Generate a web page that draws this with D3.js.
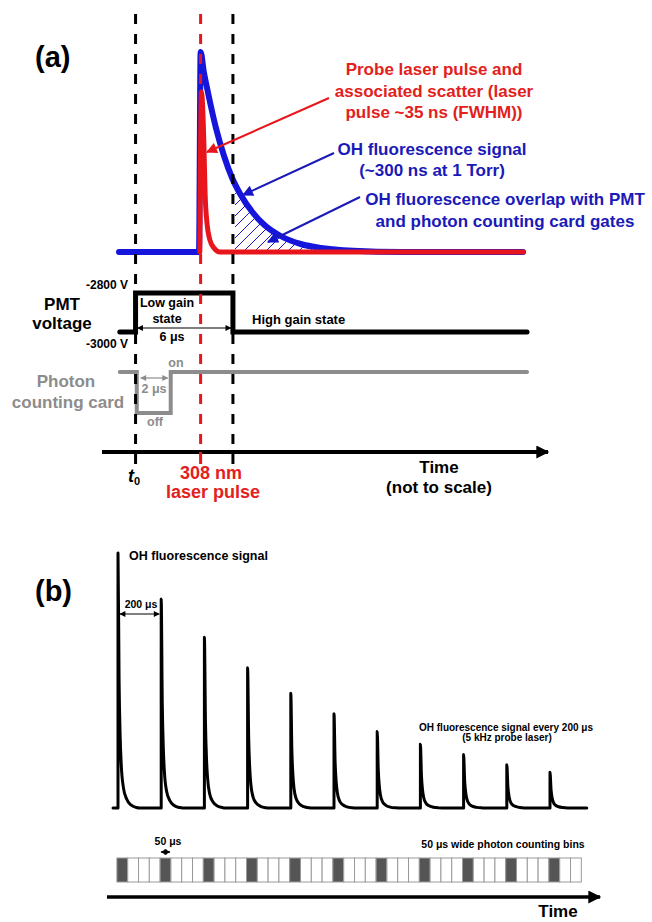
<!DOCTYPE html>
<html>
<head>
<meta charset="utf-8">
<script src="https://d3js.org/d3.v7.min.js"></script>
<style>
  body { margin: 0; background: #fff; }
  svg text { font-family: "Liberation Sans", Arial, sans-serif; font-weight: bold; }
</style>
</head>
<body>
<script>
// ---------- panel (a): timing scheme (time axis not to scale) ----------
var markerTimes = [4.1, 20.2, 28.2];          // t0, 308 nm laser pulse, end of PMT low gain gate
// OH fluorescence (blue) and laser scatter (red), normalised amplitude
var blueCurve = [[0, 0], [19.8, 0], [20.2, 1], [21, 0.9], [22, 0.8], [24, 0.62], [26, 0.48],
                 [28, 0.37], [30, 0.29], [33, 0.2], [36, 0.135], [40, 0.08], [45, 0.04],
                 [50, 0.02], [58, 0.006], [70, 0], [100, 0]];
var redCurve = [[20.0, 0], [20.4, 0.8], [21.0, 0.55], [21.3, 0.3], [21.8, 0.14],
                [22.5, 0.06], [23.5, 0.02], [25, 0], [100, 0]];
// PMT voltage steps
var pmtTimes = [0.2, 4.1, 28.2, 101];
var pmtVolts = [-3000, -2800, -3000, -3000];
// photon counting card gate (1 = on, 0 = off)
var cardTimes = [0.2, 4.4, 12.8, 101];
var cardState = [1, 0, 1, 1];

// ---------- panel (b): 5 kHz pulse train and counting bins ----------
var pulseTimes = [0, 200, 400, 600, 800, 1000, 1200, 1400, 1600, 1800, 2000];   // µs
var pulseHeights = [1, 0.82, 0.67, 0.55, 0.45, 0.37, 0.30, 0.25, 0.21, 0.17, 0.14];
var decayShape = [[0, 1], [5, 0.5], [10, 0.28], [15, 0.17], [25, 0.08], [40, 0.035],
                  [60, 0.012], [85, 0.002], [100, 0]];
var binStart = -5, binWidth = 50, binCount = 43;

var W = 652, H = 922;
var svg = d3.select("body").append("svg").attr("width", W).attr("height", H);
var defs = svg.append("defs");

function marker(id, color, w, h) {
  defs.append("marker").attr("id", id)
      .attr("viewBox", "0 0 10 10").attr("refX", 9).attr("refY", 5)
      .attr("markerUnits", "userSpaceOnUse")
      .attr("markerWidth", w).attr("markerHeight", h)
      .attr("orient", "auto-start-reverse")
    .append("path").attr("d", "M0,0 L10,5 L0,10 z").attr("fill", color);
}
marker("arRed", "#e8161c", 13, 11);
marker("arBlue", "#1616c8", 13, 11);
marker("arAxis", "#000", 14, 13);
marker("arSmall", "#000", 7, 6);
marker("arGray", "#8c8c8c", 7, 6);

var hatch = defs.append("pattern").attr("id", "hatch")
    .attr("patternUnits", "userSpaceOnUse").attr("width", 11).attr("height", 11);
hatch.append("path").attr("d", "M-1,1 l2,-2 M0,11 l11,-11 M10,12 l2,-2")
    .attr("stroke", "#1616c8").attr("stroke-width", 1);

var RED = "#e8161c", REDTXT = "#e3211c", BLUE = "#1515dc", BLUETXT = "#1a1ab8", GRAY = "#8c8c8c";

// ======================= panel (a) =======================
var xA = d3.scaleLinear().domain([0, 100]).range([119, 523]);
var yA = d3.scaleLinear().domain([0, 1]).range([252, 52]);
var yPmt = d3.scaleLinear().domain([-3000, -2800]).range([332, 293]);
var yCard = d3.scaleLinear().domain([0, 1]).range([413, 372]);

svg.append("text").attr("x", 35).attr("y", 67).attr("font-size", 29).text("(a)");

// hatched overlap region
defs.append("clipPath").attr("id", "gateClip").append("rect")
    .attr("x", xA(markerTimes[2]) + 2).attr("y", 0).attr("width", 400).attr("height", 260);
svg.append("path").datum(blueCurve)
    .attr("d", d3.area().x(function(d){ return xA(d[0]); }).y0(yA(0)).y1(function(d){ return yA(d[1]); })
      .curve(d3.curveMonotoneX))
    .attr("fill", "url(#hatch)").attr("clip-path", "url(#gateClip)");

var lineA = d3.line().x(function(d){ return xA(d[0]); }).y(function(d){ return yA(d[1]); })
    .curve(d3.curveMonotoneX);
svg.append("path").datum(blueCurve).attr("d", lineA).attr("fill", "none")
    .attr("stroke", BLUE).attr("stroke-width", 6).attr("stroke-linecap", "round").attr("stroke-linejoin", "round");
svg.append("path").datum(redCurve).attr("d", lineA).attr("fill", "none")
    .attr("stroke", RED).attr("stroke-width", 5).attr("stroke-linecap", "round").attr("stroke-linejoin", "round");

// PMT voltage trace
var pmtData = pmtTimes.map(function(t, i){ return [t, pmtVolts[i]]; });
svg.append("path").datum(pmtData)
    .attr("d", d3.line().x(function(d){ return xA(d[0]); }).y(function(d){ return yPmt(d[1]); }).curve(d3.curveStepAfter))
    .attr("fill", "none").attr("stroke", "#000").attr("stroke-width", 5).attr("stroke-linecap", "round");

// photon counting card trace
var cardData = cardTimes.map(function(t, i){ return [t, cardState[i]]; });
svg.append("path").datum(cardData)
    .attr("d", d3.line().x(function(d){ return xA(d[0]); }).y(function(d){ return yCard(d[1]); }).curve(d3.curveStepAfter))
    .attr("fill", "none").attr("stroke", GRAY).attr("stroke-width", 4).attr("stroke-linecap", "round");

// time axis (a)
var axisYA = 452;
svg.append("line").attr("x1", 102).attr("x2", 548).attr("y1", axisYA).attr("y2", axisYA)
    .attr("stroke", "#000").attr("stroke-width", 4).attr("marker-end", "url(#arAxis)");

// dashed markers + ticks
svg.selectAll(".marker").data(markerTimes).enter().append("line")
    .attr("x1", function(d){ return xA(d); }).attr("x2", function(d){ return xA(d); })
    .attr("y1", 14).attr("y2", axisYA)
    .attr("stroke", function(d, i){ return i === 1 ? RED : "#000"; })
    .attr("stroke-width", 3).attr("stroke-dasharray", "10,10");
svg.selectAll(".tick").data(markerTimes).enter().append("line")
    .attr("x1", function(d){ return xA(d); }).attr("x2", function(d){ return xA(d); })
    .attr("y1", axisYA).attr("y2", 464)
    .attr("stroke", function(d, i){ return i === 1 ? RED : "#000"; }).attr("stroke-width", 3);

// annotation arrows
function arrow(x1, y1, x2, y2, color, id, w) {
  svg.append("line").attr("x1", x1).attr("y1", y1).attr("x2", x2).attr("y2", y2)
     .attr("stroke", color).attr("stroke-width", w).attr("marker-end", "url(#" + id + ")");
}
arrow(329, 98, 207, 152, RED, "arRed", 2);
arrow(334, 153, 243, 195, BLUETXT, "arBlue", 2);
arrow(360, 197, 268, 242, BLUETXT, "arBlue", 2);

function label(x, y, txt, size, color, anchor) {
  return svg.append("text").attr("x", x).attr("y", y).attr("font-size", size)
     .attr("fill", color || "#000").attr("text-anchor", anchor || "middle").text(txt);
}
label(434, 75, "Probe laser pulse and", 17, REDTXT);
label(434, 97, "associated scatter (laser", 17, REDTXT);
label(434, 118, "pulse ~35 ns (FWHM))", 17, REDTXT);
label(432, 155, "OH fluorescence signal", 17, BLUETXT);
label(432, 176, "(~300 ns at 1 Torr)", 17, BLUETXT);
label(505, 205, "OH fluorescence overlap with PMT", 17, BLUETXT);
label(505, 227, "and photon counting card gates", 17, BLUETXT);

label(62, 310, "PMT", 17);
label(62, 329, "voltage", 17);
label(128, 289, "-2800 V", 12, "#000", "end");
label(128, 348, "-3000 V", 12, "#000", "end");
label(167, 307, "Low gain", 12.5);
label(167, 323, "state", 12.5);
label(172, 341, "6 \u03bcs", 12.5);
svg.append("line").attr("x1", xA(markerTimes[0]) + 2).attr("x2", xA(markerTimes[2]) - 2)
   .attr("y1", 328).attr("y2", 328).attr("stroke", "#000").attr("stroke-width", 1.2)
   .attr("marker-start", "url(#arSmall)").attr("marker-end", "url(#arSmall)");
label(252, 324, "High gain state", 13, "#000", "start");

label(66, 387, "Photon", 17, GRAY);
label(68, 408, "counting card", 17, GRAY);
label(176, 367, "on", 12.5, GRAY);
label(155, 426, "off", 12.5, GRAY);
label(154, 393, "2 \u03bcs", 12.5, GRAY);
svg.append("line").attr("x1", xA(cardTimes[1]) + 4).attr("x2", xA(cardTimes[2]) - 3)
   .attr("y1", 378).attr("y2", 378).attr("stroke", GRAY).attr("stroke-width", 1.2)
   .attr("marker-start", "url(#arGray)").attr("marker-end", "url(#arGray)");

var t0 = svg.append("text").attr("x", 128).attr("y", 482).attr("font-size", 18).attr("font-style", "italic");
t0.append("tspan").text("t");
t0.append("tspan").attr("font-size", 11).attr("dy", 3).attr("font-style", "normal").text("0");
label(211, 479, "308 nm", 18, REDTXT);
label(213, 498, "laser pulse", 18, REDTXT);
label(439, 473, "Time", 17);
label(439, 493, "(not to scale)", 17);

// ======================= panel (b) =======================
var xB = d3.scaleLinear().domain([0, 2000]).range([118, 550]);
var yB = d3.scaleLinear().domain([0, 1]).range([808, 553]);

svg.append("text").attr("x", 35).attr("y", 601).attr("font-size", 29).text("(b)");

var trace = [[-23, 0]];
pulseTimes.forEach(function(t, i){
  trace.push([t - 0.01, 0]);
  decayShape.forEach(function(p){ trace.push([t + p[0], pulseHeights[i] * p[1]]); });
});
trace.push([2170, 0]);
svg.append("path").datum(trace)
   .attr("d", d3.line().x(function(d){ return xB(d[0]); }).y(function(d){ return yB(d[1]); }).curve(d3.curveMonotoneX))
   .attr("fill", "none").attr("stroke", "#000").attr("stroke-width", 3)
   .attr("stroke-linejoin", "round").attr("stroke-linecap", "round");

label(129, 560, "OH fluorescence signal", 12.5, "#000", "start");
label(141, 608, "200 \u03bcs", 10.5);
svg.append("line").attr("x1", xB(pulseTimes[0]) + 2).attr("x2", xB(pulseTimes[1]) - 2)
   .attr("y1", 614).attr("y2", 614).attr("stroke", "#000").attr("stroke-width", 1.2)
   .attr("marker-start", "url(#arSmall)").attr("marker-end", "url(#arSmall)");
label(506, 731, "OH fluorescence signal every 200 \u03bcs", 10);
label(507, 741, "(5 kHz probe laser)", 10);

// photon counting bins
var bins = d3.range(binCount).map(function(i){ return binStart + i * binWidth; });
var binTop = 858, binBot = 882;
svg.selectAll(".bin").data(bins).enter().append("rect")
   .attr("x", function(d){ return xB(d); }).attr("y", binTop)
   .attr("width", function(d){ return xB(d + binWidth) - xB(d); }).attr("height", binBot - binTop)
   .attr("fill", function(d, i){ return i % 4 === 0 ? "#555" : "#fff"; })
   .attr("stroke", "#9a9a9a").attr("stroke-width", 1);
label(168, 845, "50 \u03bcs", 10.5);
svg.append("line").attr("x1", xB(200 + binStart) + 1).attr("x2", xB(200 + binStart + binWidth) - 1)
   .attr("y1", 852).attr("y2", 852).attr("stroke", "#000").attr("stroke-width", 1.2)
   .attr("marker-start", "url(#arSmall)").attr("marker-end", "url(#arSmall)");
label(503, 848, "50 \u03bcs wide photon counting bins", 10.5);

svg.append("line").attr("x1", 107).attr("x2", 600).attr("y1", 897).attr("y2", 897)
   .attr("stroke", "#000").attr("stroke-width", 3.5).attr("marker-end", "url(#arAxis)");
label(558, 917, "Time", 17);
</script>
</body>
</html>
